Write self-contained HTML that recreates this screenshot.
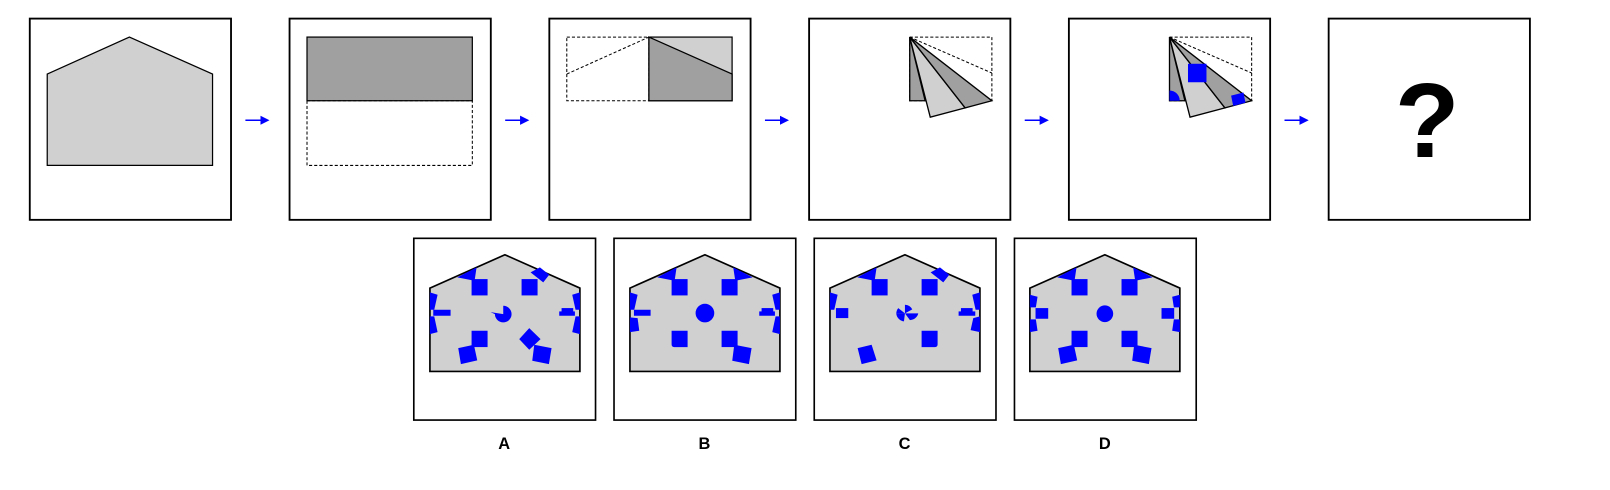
<!DOCTYPE html>
<html><head><meta charset="utf-8"><style>
html,body{margin:0;padding:0;background:#fff;width:1610px;height:490px;overflow:hidden}
svg{display:block}
text{font-family:"Liberation Sans",sans-serif;font-weight:bold}
</style></head><body>
<svg width="1610" height="490" viewBox="0 0 1568 477">
<defs>
<marker id="ah" markerWidth="6" markerHeight="6" refX="5" refY="3" orient="auto"><path d="M0,0 L6,3 L0,6 Z" fill="#00f"/></marker>
</defs>
<g fill="#fff" stroke="#000" stroke-width="1.8">
<rect x="29" y="18" width="196" height="196"/>
<rect x="282" y="18" width="196" height="196"/>
<rect x="535" y="18" width="196" height="196"/>
<rect x="788" y="18" width="196" height="196"/>
<rect x="1041" y="18" width="196" height="196"/>
<rect x="1294" y="18" width="196" height="196"/>
</g>
<g stroke="#00f" stroke-width="1.5">
<line x1="239" y1="117" x2="261" y2="117" marker-end="url(#ah)"/>
<line x1="492" y1="117" x2="514" y2="117" marker-end="url(#ah)"/>
<line x1="745" y1="117" x2="767" y2="117" marker-end="url(#ah)"/>
<line x1="998" y1="117" x2="1020" y2="117" marker-end="url(#ah)"/>
<line x1="1251" y1="117" x2="1273" y2="117" marker-end="url(#ah)"/>
</g>
<polygon points="46,72 126,36 207,72 207,161 46,161" fill="#d0d0d0" stroke="#000" stroke-width="1.2"/>
<rect x="299" y="36" width="161" height="62" fill="#a0a0a0" stroke="#000" stroke-width="1.2"/>
<rect x="299" y="98" width="161" height="63" fill="none" stroke="#000" stroke-width="1" stroke-dasharray="3,2"/>
<rect x="552" y="36" width="80" height="62" fill="none" stroke="#000" stroke-width="1" stroke-dasharray="3,2"/>
<line x1="552" y1="72" x2="632" y2="36" stroke="#000" stroke-dasharray="3,2"/>
<rect x="632" y="36" width="81" height="62" fill="#d0d0d0" stroke="#000" stroke-width="1.2"/>
<polygon points="632,36 713,72 713,98 632,98" fill="#a0a0a0" stroke="#000" stroke-width="1.2"/>
<g>
<rect x="886" y="36" width="80" height="62" fill="none" stroke="#000" stroke-width="1" stroke-dasharray="3,2"/>
<line x1="886" y1="36" x2="966" y2="71" stroke="#000" stroke-dasharray="3,2"/>
<polygon points="886,36 886,98 901,98" fill="#a0a0a0" stroke="#000" stroke-width="1.3"/>
<polygon points="886,36 906,114 940,105" fill="#d0d0d0" stroke="#000" stroke-width="1.3"/>
<polygon points="886,36 940,105 966,98" fill="#a0a0a0" stroke="#000" stroke-width="1.3"/>
</g>
<g transform="translate(253,0)">
<rect x="886" y="36" width="80" height="62" fill="none" stroke="#000" stroke-width="1" stroke-dasharray="3,2"/>
<line x1="886" y1="36" x2="966" y2="71" stroke="#000" stroke-dasharray="3,2"/>
<polygon points="886,36 886,98 901,98" fill="#a0a0a0" stroke="#000" stroke-width="1.3"/>
<polygon points="886,36 906,114 940,105" fill="#d0d0d0" stroke="#000" stroke-width="1.3"/>
<polygon points="886,36 940,105 966,98" fill="#a0a0a0" stroke="#000" stroke-width="1.3"/>
<rect x="904" y="62" width="18" height="18" fill="#00f"/>
<path d="M886,98 L886,88 A10,10 0 0 1 896,98 Z" fill="#00f"/>
<polygon points="946,93 958,90 960,100 948,103" fill="#00f"/>
</g>
<text x="1390" y="153" font-size="103" text-anchor="middle">?</text>

<g fill="#fff" stroke="#000" stroke-width="1.6">
<rect x="403" y="232" width="177" height="177"/>
<rect x="598" y="232" width="177" height="177"/>
<rect x="793" y="232" width="177" height="177"/>
<rect x="988" y="232" width="177" height="177"/>
</g>
<g transform="translate(418.7,248) scale(0.3246)">
<polygon points="0,100 225,0 450,100 450,350 0,350" fill="#d0d0d0" stroke="#000" stroke-width="5"/>
<g fill="#00f">
<polygon points="82,68 140,38 134,78"/>
<rect x="125" y="73" width="48" height="49"/><rect x="275" y="73" width="48" height="49"/>
<polygon points="302,53 330,38 358,60 340,83"/>
<polygon points="0,113 23,120 13,165 0,165"/><rect x="10" y="165" width="52" height="18"/><polygon points="0,185 13,185 23,232 0,238"/>
<polygon points="450,113 427,120 437,165 450,165"/><rect x="388" y="170" width="47" height="13"/><rect x="395" y="160" width="35" height="12"/><polygon points="437,185 450,185 450,238 427,232"/>
<path d="M220,178 L220,153 A25,25 0 1 1 195,178 L182,172 Z"/>
<rect x="125" y="228" width="48" height="49"/>
<polygon points="85,280 132,270 142,317 93,328"/>
<polygon points="298,220 332,253 298,285 268,253"/>
<polygon points="313,270 365,280 357,328 307,318"/>
</g></g>
<g transform="translate(613.5,248) scale(0.3246)">
<polygon points="0,100 225,0 450,100 450,350 0,350" fill="#d0d0d0" stroke="#000" stroke-width="5"/>
<g fill="#00f">
<polygon points="82,68 140,38 134,78"/><polygon points="368,68 310,38 316,78"/>
<rect x="125" y="73" width="48" height="49"/><rect x="275" y="73" width="48" height="49"/>
<polygon points="0,113 23,120 13,165 0,165"/><rect x="12" y="165" width="50" height="18"/><polygon points="0,188 23,190 28,228 0,232"/>
<polygon points="450,113 427,120 437,165 450,165"/><rect x="388" y="170" width="47" height="13"/><rect x="395" y="160" width="35" height="12"/><polygon points="437,185 450,185 450,238 427,232"/>
<circle cx="225" cy="175" r="28"/>
<path d="M125,228 h48 v49 h-40 q-8,0 -8,-8 Z"/><rect x="275" y="228" width="48" height="49"/>
<polygon points="313,270 365,280 357,328 307,318"/>
</g></g>
<g transform="translate(808.3,248) scale(0.3246)">
<polygon points="0,100 225,0 450,100 450,350 0,350" fill="#d0d0d0" stroke="#000" stroke-width="5"/>
<g fill="#00f">
<polygon points="82,68 140,38 134,78"/>
<rect x="125" y="73" width="48" height="49"/><rect x="275" y="73" width="48" height="49"/>
<polygon points="302,53 330,38 358,60 340,83"/>
<polygon points="0,113 23,120 13,165 0,165"/><rect x="18" y="160" width="37" height="30"/>
<polygon points="450,113 427,120 437,165 450,165"/><rect x="386" y="170" width="50" height="13"/><rect x="393" y="160" width="35" height="12"/><polygon points="430,190 450,185 450,232 422,226"/>
<path d="M225,176 L225,150 A26,26 0 0 1 247,164 Z"/>
<path d="M225,176 L265,176 A26,26 0 0 1 240,196 Z"/>
<path d="M225,176 L199,176 A26,26 0 0 0 222,200 Z"/>
<path d="M225,176 L205,160 A26,26 0 0 0 199,176 Z"/>
<path d="M275,228 h48 v41 q0,8 -8,8 h-40 Z"/>
<polygon points="83,280 125,270 140,317 95,328"/>
</g></g>
<g transform="translate(1003,248) scale(0.3246)">
<polygon points="0,100 225,0 450,100 450,350 0,350" fill="#d0d0d0" stroke="#000" stroke-width="5"/>
<g fill="#00f">
<polygon points="82,68 140,38 134,78"/><polygon points="368,68 310,38 316,78"/>
<rect x="125" y="73" width="48" height="49"/><rect x="275" y="73" width="48" height="49"/>
<polygon points="0,120 23,126 18,158 0,158"/><rect x="17" y="160" width="38" height="32"/><polygon points="0,194 18,194 23,228 0,232"/>
<polygon points="450,120 427,126 432,158 450,158"/><rect x="395" y="160" width="38" height="32"/><polygon points="450,194 432,194 427,228 450,232"/>
<circle cx="225" cy="177" r="25"/>
<rect x="125" y="228" width="48" height="49"/><rect x="275" y="228" width="48" height="49"/>
<polygon points="85,280 132,270 142,317 93,328"/>
<polygon points="313,270 365,280 357,328 307,318"/>
</g></g>
<g font-size="16" text-anchor="middle">
<text x="491" y="437">A</text>
<text x="686" y="437">B</text>
<text x="881" y="437">C</text>
<text x="1076" y="437">D</text>
</g>
</svg>
</body></html>
